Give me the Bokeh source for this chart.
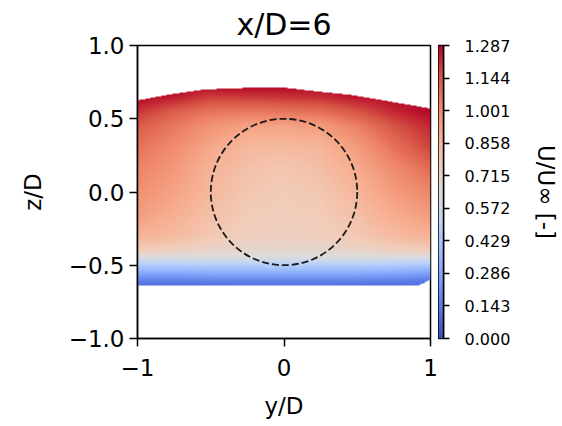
import numpy as np
from bokeh.plotting import figure
from bokeh.layouts import row
from bokeh.models import LinearColorMapper, FixedTicker, PrintfTickFormatter
from bokeh.embed import file_html
from bokeh.resources import INLINE

# ---------------- data ----------------
title_text = "x/D=6"
x_label = "y/D"
z_label = "z/D"
cbar_label = "U/U∞ [-]"

y_ticks = [-1, 0, 1]
y_tick_labels = ["−1", "0", "1"]
z_ticks = [-1.0, -0.5, 0.0, 0.5, 1.0]
z_tick_labels = ["−1.0", "−0.5", "0.0", "0.5", "1.0"]
cbar_ticks = [0.000, 0.143, 0.286, 0.429, 0.572, 0.715, 0.858, 1.001, 1.144, 1.287]
u_min, u_max = 0.0, 1.287

# coarse grid of normalised velocity
grid_y = [-1.0, -0.75, -0.5, -0.25, 0.0, 0.25, 0.5, 0.75, 1.0]
grid_z = [-0.64, -0.60, -0.55, -0.50, -0.45, -0.40, -0.30, -0.15, 0.0, 0.15, 0.30, 0.45, 0.55, 0.65, 0.72]
u_z_m064 = [0.10, 0.10, 0.10, 0.11, 0.11, 0.11, 0.10, 0.10, 0.10]
u_z_m060 = [0.17, 0.17, 0.18, 0.18, 0.18, 0.18, 0.18, 0.17, 0.15]
u_z_m055 = [0.31, 0.31, 0.32, 0.32, 0.32, 0.32, 0.32, 0.31, 0.28]
u_z_m050 = [0.46, 0.46, 0.47, 0.47, 0.47, 0.47, 0.47, 0.46, 0.44]
u_z_m045 = [0.62, 0.62, 0.62, 0.62, 0.62, 0.62, 0.62, 0.62, 0.61]
u_z_m040 = [0.76, 0.74, 0.71, 0.69, 0.69, 0.69, 0.71, 0.74, 0.76]
u_z_m030 = [0.88, 0.84, 0.78, 0.75, 0.74, 0.75, 0.78, 0.84, 0.88]
u_z_m015 = [0.95, 0.89, 0.82, 0.77, 0.76, 0.77, 0.82, 0.90, 0.96]
u_z_p000 = [0.99, 0.93, 0.85, 0.79, 0.77, 0.79, 0.86, 0.95, 1.02]
u_z_p015 = [1.03, 0.96, 0.87, 0.81, 0.79, 0.82, 0.90, 1.00, 1.09]
u_z_p030 = [1.07, 1.00, 0.91, 0.85, 0.84, 0.86, 0.95, 1.07, 1.18]
u_z_p045 = [1.13, 1.06, 0.98, 0.93, 0.93, 0.95, 1.04, 1.15, 1.23]
u_z_p055 = [1.21, 1.13, 1.07, 1.06, 1.07, 1.09, 1.15, 1.23, 1.28]
u_z_p065 = [1.28, 1.25, 1.19, 1.20, 1.21, 1.22, 1.26, 1.28, 1.28]
u_z_p072 = [1.28, 1.28, 1.28, 1.28, 1.28, 1.28, 1.28, 1.28, 1.28]

# measured extent of the sampled plane
top_y = [-1.0, -0.77, -0.545, -0.2, 0.0, 0.23, 0.455, 0.71, 1.0]
top_z = [0.625, 0.668, 0.70, 0.713, 0.713, 0.686, 0.663, 0.62, 0.57]
bot_y = [-1.0, 0.92, 0.96, 1.0]
bot_z = [-0.637, -0.637, -0.62, -0.595]

# rotor outline
rotor_y, rotor_z, rotor_d = 0.0, 0.0, 1.0

# ---------------- styling helpers ----------------
FONT = "DejaVu Sans"
coolwarm_anchors = ["#3b4cc0", "#5977e3", "#7b9ff9", "#9ebeff", "#c0d4f5", "#dddcdc",
                    "#f2cbb7", "#f7ac8e", "#ee8468", "#d65244", "#b40426"]


def build_palette(anchors, n=256):
    rgb = np.array([[int(h[i:i + 2], 16) for i in (1, 3, 5)] for h in anchors], float)
    pos = np.linspace(0, 1, len(anchors))
    t = np.linspace(0, 1, n)
    out = []
    for v in t:
        r, g, b = (np.interp(v, pos, rgb[:, k]) for k in range(3))
        out.append("#%02x%02x%02x" % (int(round(r)), int(round(g)), int(round(b))))
    return out


palette = build_palette(coolwarm_anchors)
mapper = LinearColorMapper(palette=palette, low=u_min, high=u_max, nan_color=(0, 0, 0, 0))

# ---------------- field image ----------------
u_rows = np.array([u_z_m064, u_z_m060, u_z_m055, u_z_m050, u_z_m045, u_z_m040, u_z_m030,
                   u_z_m015, u_z_p000, u_z_p015, u_z_p030, u_z_p045, u_z_p055, u_z_p065,
                   u_z_p072])
NPIX = 293
centers = -1 + (np.arange(NPIX) + 0.5) * 2.0 / NPIX
tmp = np.array([np.interp(centers, grid_z, u_rows[:, j]) for j in range(len(grid_y))]).T
field = np.array([np.interp(centers, grid_y, tmp[i, :]) for i in range(NPIX)])
top_line = np.interp(centers, top_y, top_z)
bot_line = np.interp(centers, bot_y, bot_z)
ZZ = centers[:, None] * np.ones((1, NPIX))
mask = (ZZ > top_line[None, :]) | (ZZ < bot_line[None, :])
field[mask] = np.nan

# ---------------- main figure ----------------
p = figure(width=438, height=426, x_range=(-1, 1), y_range=(-1, 1),
           output_backend="svg", toolbar_location=None,
           min_border_left=137, min_border_right=8, min_border_top=45, min_border_bottom=88)
p.image(image=[field], x=-1, y=-1, dw=2, dh=2, color_mapper=mapper)
p.ellipse(x=[rotor_y], y=[rotor_z], width=[rotor_d], height=[rotor_d],
          fill_color=None, line_color="#1a1a1a", line_width=1.8, line_dash="7 3")

p.title.text = title_text
p.title.align = "center"
p.title.vertical_align = "top"
p.title.text_font = FONT
p.title.text_font_size = "30px"
p.title.text_font_style = "normal"
p.title.text_color = "black"
p.title.standoff = 4

p.grid.visible = False
p.outline_line_color = "black"
p.outline_line_width = 1.5
p.background_fill_color = "white"

for ax in (p.xaxis[0], p.yaxis[0]):
    ax.axis_line_width = 1.5
    ax.major_tick_line_width = 1.5
    ax.major_tick_out = 8
    ax.major_tick_in = 0
    ax.minor_tick_line_color = None
    ax.major_label_text_font = FONT
    ax.major_label_text_font_size = "23px"
    ax.major_label_text_color = "black"
    ax.axis_label_text_font = FONT
    ax.axis_label_text_font_size = "23px"
    ax.axis_label_text_font_style = "normal"
    ax.axis_label_text_color = "black"

p.xaxis.ticker = FixedTicker(ticks=y_ticks)
p.xaxis.major_label_overrides = dict(zip(y_ticks, y_tick_labels))
p.xaxis.axis_label = x_label
p.xaxis.major_label_standoff = 12
p.xaxis.axis_label_standoff = 14
p.yaxis.ticker = FixedTicker(ticks=z_ticks)
p.yaxis.major_label_overrides = dict(zip(z_ticks, z_tick_labels))
p.yaxis.axis_label = z_label
p.yaxis.major_label_standoff = 5
p.yaxis.axis_label_standoff = 20

# ---------------- colour bar figure ----------------
cb = figure(width=124, height=426, x_range=(0, 1), y_range=(u_min, u_max),
            output_backend="svg", toolbar_location=None, y_axis_location="right",
            min_border_left=0, min_border_right=115, min_border_top=45, min_border_bottom=88)
gradient = np.linspace(u_min, u_max, 512).reshape(512, 1)
cb.image(image=[gradient], x=0, y=u_min, dw=1, dh=u_max - u_min, color_mapper=mapper)
cb.xaxis.visible = False
cb.grid.visible = False
cb.outline_line_color = "black"
cb.outline_line_width = 1.5
ya = cb.yaxis[0]
ya.ticker = FixedTicker(ticks=cbar_ticks)
ya.formatter = PrintfTickFormatter(format="%.3f")
ya.axis_line_width = 1.5
ya.major_tick_line_width = 1.5
ya.major_tick_out = 6
ya.major_tick_in = 0
ya.minor_tick_line_color = None
ya.major_label_text_font = FONT
ya.major_label_text_font_size = "16px"
ya.major_label_text_color = "black"
ya.major_label_standoff = 15
ya.axis_label = cbar_label
ya.axis_label_text_font = FONT
ya.axis_label_text_font_size = "23px"
ya.axis_label_text_font_style = "normal"
ya.axis_label_text_color = "black"
ya.axis_label_standoff = 20

layout = row(p, cb)
open("out.html", "w").write(file_html(layout, INLINE))
